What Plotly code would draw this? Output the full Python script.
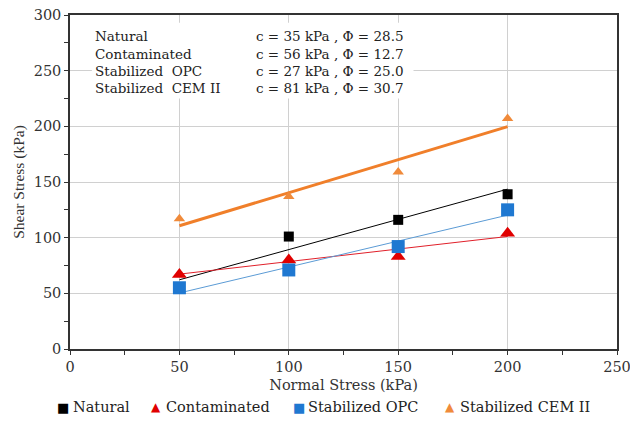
import numpy as np
import plotly.graph_objects as go

normal_stress = [50, 100, 150, 200]
natural = [55, 101, 116, 139]
contaminated = [67, 80, 83, 104]
stab_opc = [55, 71, 92, 125]
stab_cem2 = [117, 137, 159, 207]

series_names = ["Natural", "Contaminated", "Stabilized OPC", "Stabilized CEM II"]
label_names = ["Natural", "Contaminated", "Stabilized  OPC", "Stabilized  CEM II"]
cohesion = [35, 56, 27, 81]
phi = [28.5, 12.7, 25.0, 30.7]

x_ticks = [0, 50, 100, 150, 200, 250]
y_ticks = [0, 50, 100, 150, 200, 250, 300]

FONT = "DejaVu Serif, serif"
FONT_V = "Liberation Serif, Times New Roman, serif"

marker_colors = ["#000000", "#e00000", "#1f78d1", "#f08a3a"]
line_colors = ["#000000", "#e0202a", "#5b9bd5", "#f07f2a"]
line_widths = [1, 1, 1, 3]
symbols = ["square", "triangle-up", "square", "triangle-up"]
legend_glyphs = ["\u25a0", "\u25b2", "\u25a0", "\u25b2"]
sizes = [10, 13, 13, 10]
values = [natural, contaminated, stab_opc, stab_cem2]

W, H = 630, 425
ML, MR, MT, MB = 70, 13, 15, 76
PW, PH = W - ML - MR, H - MT - MB

def px_x(px):
    return (px - ML) / PW

def px_y(py):
    return (H - MB - py) / PH

fig = go.Figure()

xs = np.array(normal_stress, dtype=float)
# fit lines from c and phi
for i in range(4):
    y_fit = cohesion[i] + np.tan(np.radians(phi[i])) * xs
    fig.add_trace(go.Scatter(x=[xs[0], xs[-1]], y=[y_fit[0], y_fit[-1]], mode="lines",
                             line=dict(color=line_colors[i], width=line_widths[i]),
                             showlegend=False, hoverinfo="skip"))

for i in range(4):
    fig.add_trace(go.Scatter(x=normal_stress, y=values[i], mode="markers", name=series_names[i],
                             showlegend=False,
                             marker=dict(symbol=symbols[i], color=marker_colors[i], size=sizes[i],
                                         line=dict(width=0))))

# white box behind the parameter text
fig.add_shape(type="rect", xref="x", yref="y", x0=10, x1=157, y0=225, y1=293,
              fillcolor="white", line=dict(width=0), layer="above")

for k in range(4):
    yv = 281 - k * 15.6
    fig.add_annotation(x=10.3, y=yv, xref="x", yref="y", xanchor="left", yanchor="middle",
                       text=label_names[k].replace("  ", "&nbsp;&nbsp;"), showarrow=False,
                       font=dict(family=FONT, size=13.5, color="#222"))
    fig.add_annotation(x=84, y=yv, xref="x", yref="y", xanchor="left", yanchor="middle",
                       text=f"c = {cohesion[k]} kPa , \u03a6 = {phi[k]:.1f}", showarrow=False,
                       font=dict(family=FONT, size=13.5, color="#222"))

# legend (manual, to keep the compact spacing of the original)
legend_sym_px = [63, 156, 299, 450]
legend_txt_px = [71, 164, 306, 458]
legend_y = px_y(407)
for i in range(4):
    fig.add_annotation(x=px_x(legend_sym_px[i]), y=legend_y, xref="paper", yref="paper",
                       xanchor="center", yanchor="middle", showarrow=False,
                       text=legend_glyphs[i],
                       font=dict(family="DejaVu Sans", size=13 if i % 2 == 0 else 12,
                                 color=marker_colors[i]))
    fig.add_annotation(x=px_x(legend_txt_px[i]), y=legend_y, xref="paper", yref="paper",
                       xanchor="left", yanchor="middle", showarrow=False,
                       text=series_names[i],
                       font=dict(family=FONT, size=14.5, color="#222"))

axis_common = dict(showline=True, linecolor="#333", linewidth=1.5, mirror=True,
                   showgrid=True, gridcolor="#d0d0d0", gridwidth=1.3, zeroline=False,
                   ticks="outside", ticklen=4, tickcolor="#333", automargin=False,
                   ticklabeloverflow="allow",
                   tickfont=dict(family=FONT, size=14.5, color="#333"))

fig.update_xaxes(range=[0, 250], tickvals=x_ticks,
                 minor=dict(dtick=25, ticks="outside", ticklen=4, tickcolor="#333", showgrid=False),
                 title=dict(text="Normal Stress (kPa)", font=dict(family=FONT, size=14.5, color="#333"), standoff=6),
                 **axis_common)
fig.update_yaxes(range=[0, 300], tickvals=y_ticks,
                 minor=dict(dtick=25, ticks="outside", ticklen=4, tickcolor="#333", showgrid=False),
                 title=dict(text="Shear Stress (kPa)", font=dict(family=FONT_V, size=15.5, color="#333"), standoff=5),
                 **axis_common)

fig.update_layout(
    width=W, height=H,
    margin=dict(l=ML, r=MR, t=MT, b=MB, autoexpand=False),
    plot_bgcolor="white", paper_bgcolor="white",
    font=dict(family=FONT, color="#222"),
    showlegend=False,
)

fig.write_html("out.html", config={"displayModeBar": False},
               post_script="document.body.style.margin='0';document.body.style.padding='0';")
